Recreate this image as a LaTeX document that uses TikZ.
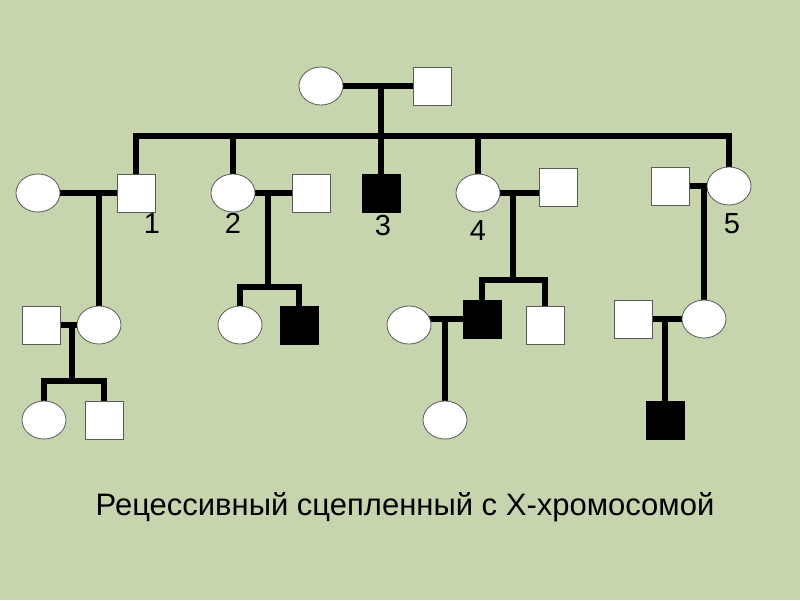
\documentclass[tikz,border=0pt]{standalone}
\usepackage{fontspec}
\setmainfont{Liberation Sans}
\usepackage{xcolor}
\usepackage{tikz}
\usetikzlibrary{calc}
\usetikzlibrary{shapes.geometric}
\usetikzlibrary{backgrounds}
\definecolor{bggreen}{RGB}{199,213,175}

\begin{document}
\begin{tikzpicture}[x=1pt,y=-1pt,
	fem/.style={ellipse,draw=black!65,fill=white,line width=0.8pt,minimum width=44pt,minimum height=38pt,inner sep=0pt},
	male/.style={rectangle,draw=black!65,fill=white,line width=0.8pt,minimum width=38pt,minimum height=38pt,inner sep=0pt},
	sick/.style={male,fill=black,draw=black},
	link/.style={line width=5.2pt,black},
	num/.style={anchor=base,font=\fontsize{29}{32}\selectfont}]
		\useasboundingbox (0,0) rectangle (800,600);
		% I
		\node[fem] (mom) at (321,86) {};
		\node[male] (dad) at (432,86) {};
		% II
		\node[fem] (w1) at (38,193) {};
		\node[male] (s1) at (136,193) {};
		\node[fem] (d2) at (233,193) {};
		\node[male] (h2) at (311,193) {};
		\node[sick] (s3) at (381,193) {};
		\node[fem] (d4) at (478,193) {};
		\node[male] (h4) at (558,187) {};
		\node[male] (h5) at (670,186) {};
		\node[fem] (d5) at (729,186) {};
		\node[num] (n1) at (152,233) {1};
		\node[num] (n2) at (233,233) {2};
		\node[num] (n3) at (383,235) {3};
		\node[num] (n4) at (478,240) {4};
		\node[num] (n5) at (732,233) {5};
		% III
		\node[male] (hh1) at (41,325) {};
		\node[fem] (dd1) at (99,325) {};
		\node[fem] (c21) at (240,325) {};
		\node[sick] (c22) at (299,325) {};
		\node[fem] (w41) at (409,325) {};
		\node[sick] (s41) at (482,319) {};
		\node[male] (s42) at (545,325) {};
		\node[male] (h51) at (633,319) {};
		\node[fem] (d51) at (704,319) {};
		% IV
		\node[fem] (g1) at (44,420) {};
		\node[male] (g2) at (104,420) {};
		\node[fem] (g41) at (445,420) {};
		\node[sick] (g51) at (665,420) {};
		\node[anchor=base,font=\fontsize{31}{36}\selectfont] (title) at (405,515) {Рецессивный сцепленный с Х-хромосомой};
		\coordinate (sib0) at (381,136);
		\coordinate (sib1) at (72,381);
		\coordinate (sib2) at (268,287);
		\coordinate (sib4) at (513,280);
	\begin{scope}[on background layer]
		\fill[bggreen] (0,0) rectangle (800,600);
		\draw[link] (mom) -- (dad);
		\draw[link] (s3 |- mom) -- (s3.north);
		\draw[link] (s1.north) -- (s1.north |- sib0) -- (d5.north |- sib0) -- (d5.north);
		\draw[link] (d2.north |- sib0) -- (d2.north);
		\draw[link] (d4.north |- sib0) -- (d4.north);
		% 1
		\draw[link] (w1) -- (s1);
		\draw[link] (dd1 |- w1) -- (dd1.north);
		\draw[link] (hh1) -- (dd1);
		\draw[link] (sib1 |- dd1) -- (sib1);
		\draw[link] (g1.north) -- (g1.north |- sib1) -- (g2.north |- sib1) -- (g2.north);
		% 2
		\draw[link] (d2) -- (h2);
		\draw[link] (sib2 |- d2) -- (sib2);
		\draw[link] (c21.north) -- (c21.north |- sib2) -- (c22.north |- sib2) -- (c22.north);
		% 4
		\draw[link] (d4) -- (d4 -| h4);
		\draw[link] (sib4 |- d4) -- (sib4);
		\draw[link] (s41.north) -- (s41.north |- sib4) -- (s42.north |- sib4) -- (s42.north);
		\draw[link] (w41 |- s41) -- (s41);
		\draw[link] (g41 |- s41) -- (g41.north);
		% 5
		\draw[link] (h5) -- (d5);
		\draw[link] (d51 |- d5) -- (d51.north);
		\draw[link] (h51) -- (d51);
		\draw[link] (g51 |- h51) -- (g51.north);
	\end{scope}
	\end{tikzpicture}
\end{document}
